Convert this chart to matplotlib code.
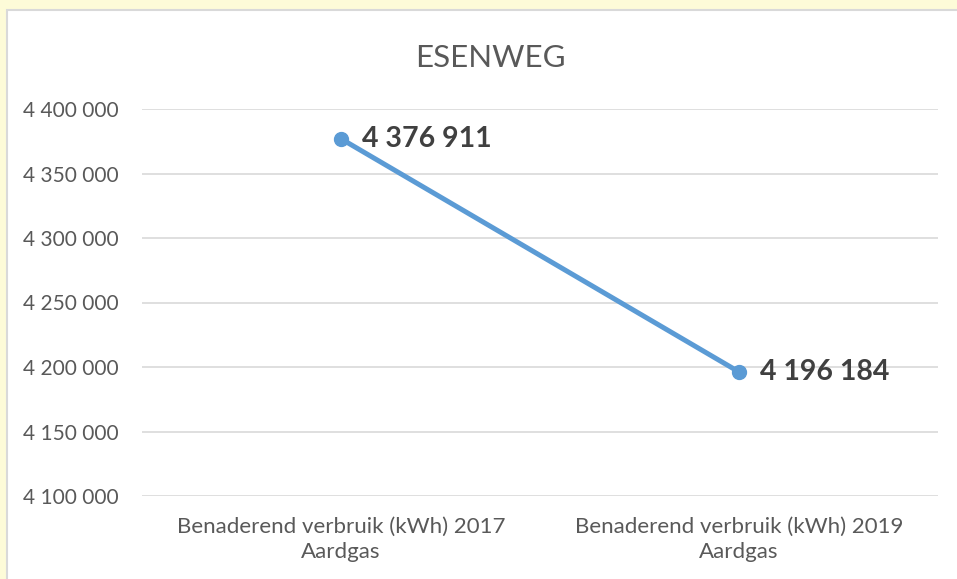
import matplotlib.pyplot as plt
import matplotlib.patches as patches

categories = ["Benaderend verbruik (kWh) 2017\nAardgas",
              "Benaderend verbruik (kWh) 2019\nAardgas"]
values = [4376911, 4196184]
yticks = [4100000, 4150000, 4200000, 4250000, 4300000, 4350000, 4400000]

plt.rcParams['font.family'] = ['Lato', 'DejaVu Sans']
txt = '#595959'

fig = plt.figure(figsize=(9.57, 5.79), dpi=100)
fig.patch.set_facecolor('white')

# yellowish page behind the chart, then the chart frame
fig.patches.append(patches.Rectangle((0, 0), 1, 1, transform=fig.transFigure,
                                     facecolor='#fdfbd8', edgecolor='none', zorder=-3))
fig.patches.append(patches.Rectangle((7 / 957, -0.05), 1.1, (579 - 10) / 579 + 0.05,
                                     transform=fig.transFigure, facecolor='white',
                                     edgecolor='#d9d9d9', linewidth=1.5, zorder=-2))

ax = fig.add_axes([142 / 957, (579 - 496) / 579, (938 - 142) / 957, (496 - 109) / 579])
ax.set_facecolor('none')

x = list(range(len(values)))
ax.plot(x, values, color='#5b9bd5', linewidth=3.6, marker='o', markersize=10,
        solid_capstyle='round', zorder=3)

for xi, v in zip(x, values):
    label = f"{v:,}".replace(",", " ")
    ax.annotate(label, (xi, v), xytext=(15, 0), textcoords='offset points',
                ha='left', va='center', fontsize=20.5, fontweight='bold', color='#404040')

ax.set_xlim(-0.5, 1.5)
ax.set_ylim(4100000, 4400000)
ax.set_yticks(yticks)
ax.set_yticklabels([f"{t:,}".replace(",", " ") for t in yticks])
ax.set_xticks(x)
ax.set_xticklabels(categories, linespacing=1.35)
ax.tick_params(axis='both', length=0, labelcolor=txt)
ax.tick_params(axis='y', pad=17, labelsize=15)
ax.tick_params(axis='x', pad=15, labelsize=16)
ax.grid(axis='y', color='#d9d9d9', linewidth=1.2)
ax.set_axisbelow(True)
for s in ax.spines.values():
    s.set_visible(False)

fig.text(490 / 957, 1 - 58 / 579, "ESENWEG", fontsize=22.5, fontweight='normal',
         color=txt, ha='center', va='center')

fig.savefig('out.png', dpi=100)
